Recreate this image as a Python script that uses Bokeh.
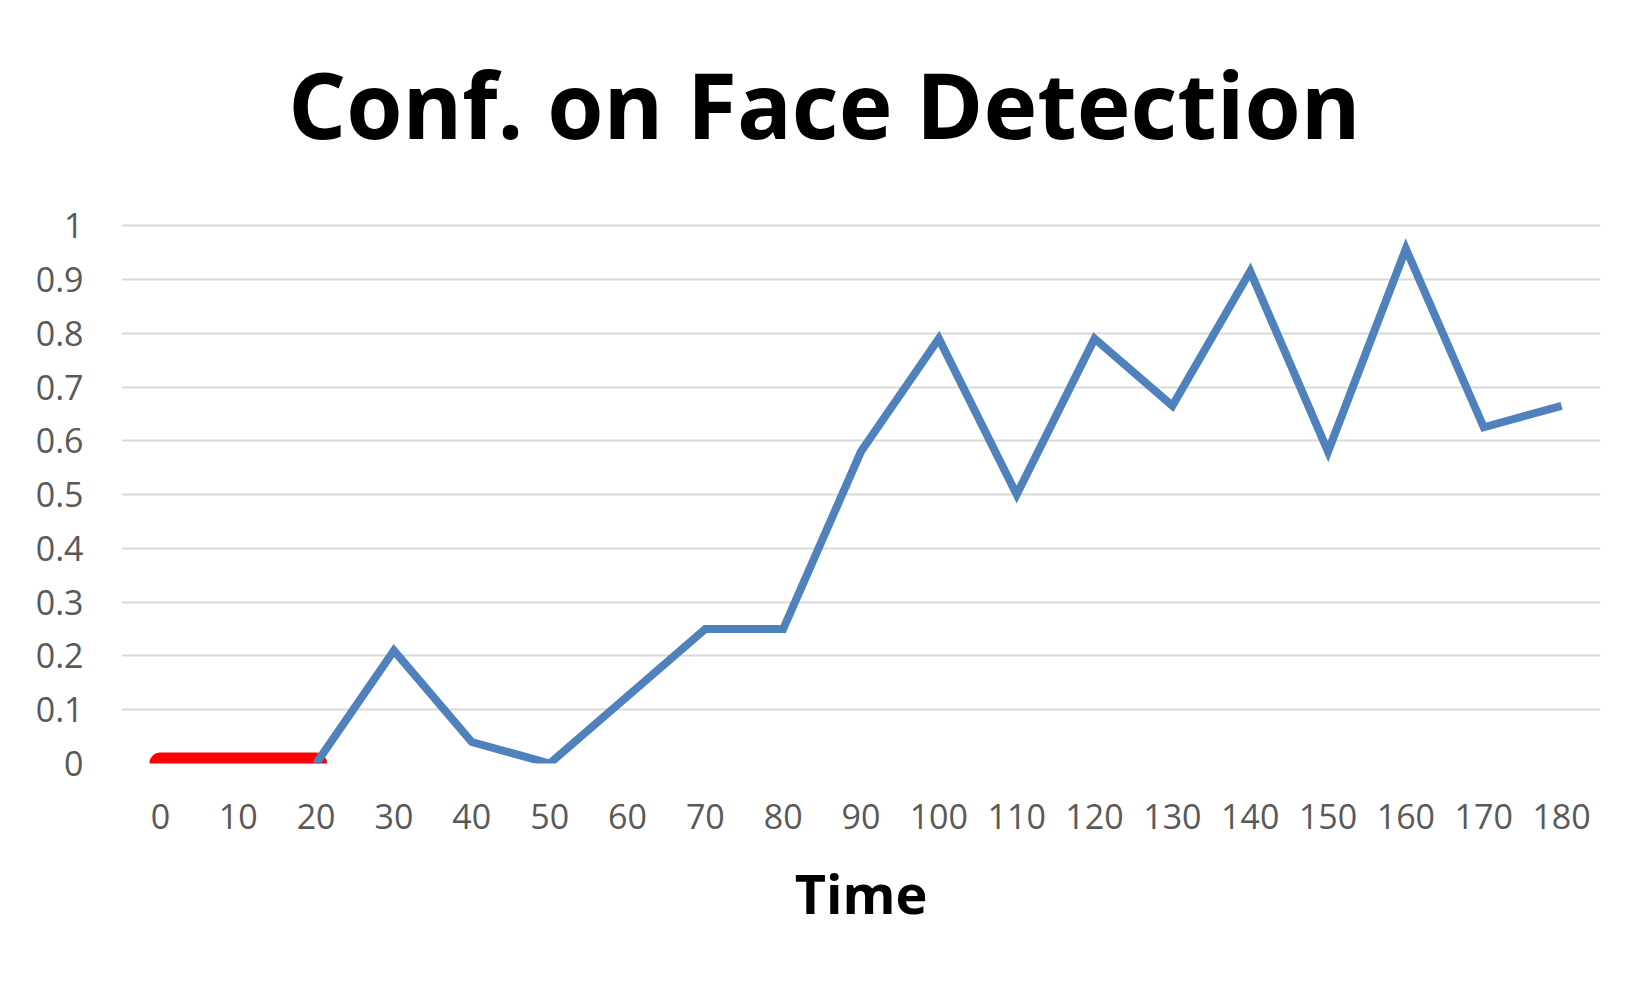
from bokeh.plotting import figure
from bokeh.models import Range1d, FixedTicker, Label
from bokeh.embed import file_html
from bokeh.resources import INLINE

# Data
time_ticks = [0, 10, 20, 30, 40, 50, 60, 70, 80, 90, 100, 110, 120, 130, 140, 150, 160, 170, 180]
y_ticks = [0, 0.1, 0.2, 0.3, 0.4, 0.5, 0.6, 0.7, 0.8, 0.9, 1]
y_tick_labels = ["0", "0.1", "0.2", "0.3", "0.4", "0.5", "0.6", "0.7", "0.8", "0.9", "1"]

no_face_time = [0, 10, 20]
no_face_conf = [0, 0, 0]

face_time = [20, 30, 40, 50, 60, 70, 80, 90, 100, 110, 120, 130, 140, 150, 160, 170, 180]
face_conf = [0, 0.21, 0.04, 0.0, 0.125, 0.25, 0.25, 0.58, 0.79, 0.50, 0.79, 0.665, 0.915, 0.58, 0.957, 0.625, 0.665]

title_text = "Conf. on Face Detection"
x_label_text = "Time"

FONT = "Open Sans"

# frame extends to the top of the canvas; gridlines only at 0..1
p = figure(width=1634, height=974,
           x_range=Range1d(-5, 185), y_range=Range1d(0, 1.4),
           output_backend="svg", toolbar_location=None,
           min_border_left=121, min_border_right=34,
           min_border_top=10, min_border_bottom=211)
p.title = None
p.outline_line_color = None
p.background_fill_color = "white"
p.border_fill_color = "white"

p.xgrid.grid_line_color = None
p.ygrid.grid_line_color = "#D9D9D9"
p.ygrid.grid_line_width = 2

for ax in (p.xaxis[0], p.yaxis[0]):
    ax.axis_line_color = None
    ax.major_tick_line_color = None
    ax.minor_tick_line_color = None
    ax.major_label_text_color = "#595959"
    ax.major_label_text_font = FONT
    ax.major_label_text_font_size = "34px"

p.xaxis[0].ticker = FixedTicker(ticks=time_ticks)
p.xaxis[0].major_label_standoff = 34
p.xaxis[0].axis_label = x_label_text
p.xaxis[0].axis_label_text_font = FONT
p.xaxis[0].axis_label_text_font_style = "bold"
p.xaxis[0].axis_label_text_font_size = "54px"
p.xaxis[0].axis_label_text_color = "black"
p.xaxis[0].axis_label_standoff = 24

p.yaxis[0].ticker = FixedTicker(ticks=y_ticks)
p.yaxis[0].major_label_overrides = {t: s for t, s in zip(y_ticks, y_tick_labels)}
p.yaxis[0].major_label_standoff = 32

p.line(no_face_time, no_face_conf, line_color="#FF0000", line_width=22, line_cap="round")
p.line(face_time, face_conf, line_color="#4F81BD", line_width=8, line_join="miter")

p.add_layout(Label(x=85.3, y=1.227, text=title_text, text_align="center",
                   text_baseline="alphabetic", text_font=FONT, text_font_style="bold",
                   text_font_size="91px", text_color="black"))

open("out.html", "w").write(file_html(p, INLINE))
